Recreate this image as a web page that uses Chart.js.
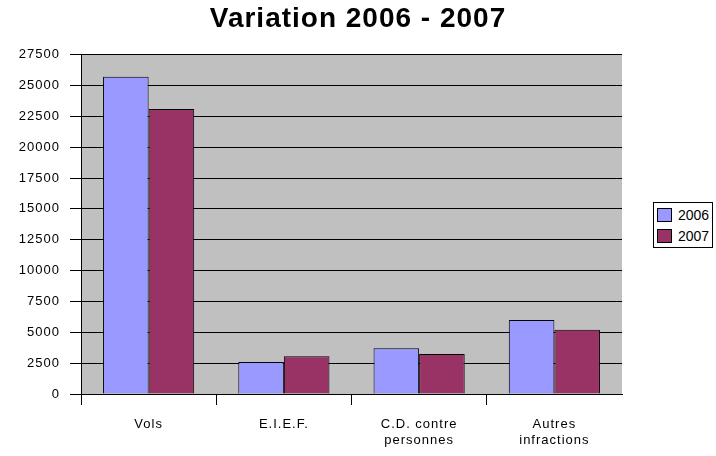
<!DOCTYPE html>
<html lang="fr">
<head>
    <meta charset="UTF-8">
    <script src="https://cdn.jsdelivr.net/npm/chart.js@4/dist/chart.umd.min.js"></script>
    <style>
        body { margin: 0; background: #fff; }
        .wrap { position: relative; width: 716px; height: 456px; }
        canvas { display: block; }
        .legend {
            position: absolute;
            left: 653px;
            top: 202px;
            width: 58px;
            height: 44px;
            border: 1px solid #000;
            font-family: Arial, "Liberation Sans", sans-serif;
            font-size: 14px;
            color: #000;
            background: #fff;
        }
        .legend .item { position: absolute; left: 3px; height: 14px; line-height: 14px; white-space: nowrap; }
        .legend .sw {
            display: inline-block;
            width: 13px;
            height: 12px;
            border: 1px solid #000;
            vertical-align: top;
            margin-right: 6px;
        }
    </style>
    <title>Variation 2006 - 2007</title>
</head>
<body>
    <div class="wrap">
        <canvas id="chart" width="716" height="456"></canvas>
        <div class="legend" id="legend"></div>
    </div>

    <script>
        const categories = ['Vols', 'E.I.E.F.', ['C.D. contre', 'personnes'], ['Autres', 'infractions']];
        const seriesNames = ['2006', '2007'];
        const values2006 = [25700, 2600, 3700, 6000];
        const values2007 = [23100, 3050, 3250, 5200];
        const colors = ['#9999FF', '#993366'];

        const font = 'Arial, "Liberation Sans", sans-serif';

        // grey plot area like the old excel charts, text a bit wider too
        const plotBg = {
            id: 'plotBg',
            beforeDraw(chart) {
                const a = chart.chartArea;
                const ctx = chart.ctx;
                ctx.letterSpacing = '1px';
                ctx.save();
                ctx.fillStyle = '#C0C0C0';
                ctx.fillRect(a.left, a.top, a.right - a.left, a.bottom - a.top);
                ctx.restore();
            }
        };

        const chart = new Chart(document.getElementById('chart').getContext('2d'), {
            type: 'bar',
            data: {
                labels: categories,
                datasets: [values2006, values2007].map((vals, i) => ({
                    label: seriesNames[i],
                    data: vals,
                    backgroundColor: colors[i],
                    borderColor: '#000',
                    borderWidth: 1,
                    borderSkipped: 'bottom',
                    barPercentage: 1.0,
                    categoryPercentage: 0.674
                }))
            },
            options: {
                responsive: false,
                animation: false,
                layout: { padding: 0 },
                plugins: {
                    legend: { display: false },
                    tooltip: { enabled: false },
                    title: {
                        display: true,
                        text: 'Variation 2006 - 2007',
                        color: '#000',
                        font: { family: font, size: 28, weight: 'bold' },
                        padding: { top: 2, bottom: 19 }
                    }
                },
                scales: {
                    x: {
                        grid: {
                            offset: true,
                            drawOnChartArea: false,
                            drawTicks: true,
                            tickLength: 11,
                            color: c => c.type === 'tick' ? '#000' : 'rgba(0,0,0,0)'
                        },
                        border: { color: '#000', width: 1 },
                        ticks: {
                            color: '#000',
                            font: { family: font, size: 13 },
                            padding: 12,
                            maxRotation: 0,
                            autoSkip: false
                        },
                        afterFit(scale) { scale.height = 62; }
                    },
                    y: {
                        min: 0,
                        max: 27500,
                        grid: {
                            color: '#000',
                            lineWidth: 1,
                            tickLength: 11
                        },
                        border: { color: '#000', width: 1 },
                        ticks: {
                            stepSize: 2500,
                            color: '#000',
                            font: { family: font, size: 13 },
                            padding: 10,
                            callback: v => String(v)
                        },
                        afterFit(scale) { scale.width = 81; }
                    },
                    // empty axis on the right, just keeps room for the legend box
                    yRight: {
                        position: 'right',
                        min: 0,
                        max: 27500,
                        grid: { display: false },
                        border: { display: false },
                        ticks: { display: false },
                        afterFit(scale) { scale.width = 94; }
                    }
                }
            },
            plugins: [plotBg]
        });

        // legend box on the right
        const legend = document.getElementById('legend');
        seriesNames.forEach((name, i) => {
            const item = document.createElement('div');
            item.className = 'item';
            item.style.top = (5 + i * 21) + 'px';
            item.innerHTML = '<span class="sw" style="background:' + colors[i] + '"></span>' + name;
            legend.appendChild(item);
        });
    </script>
</body>
</html>
